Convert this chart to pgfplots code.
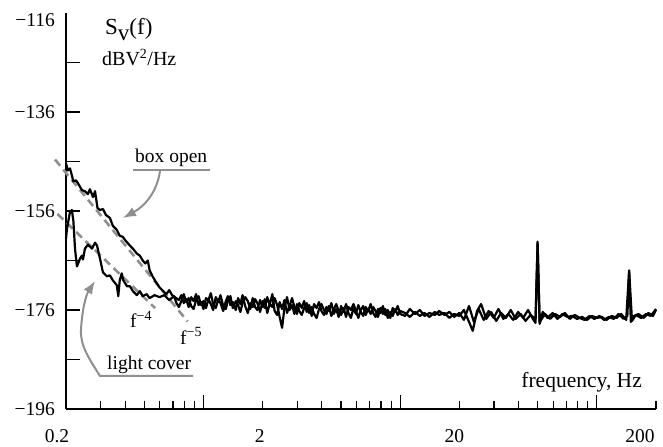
\documentclass[border=0pt]{standalone}
\usepackage{pgfplots}
\pgfplotsset{compat=1.18}
\usepackage{pgfplotstable}
\usepackage{fontspec}
\setmainfont{Liberation Serif}
\usetikzlibrary{arrows.meta}
\definecolor{annot}{gray}{0.56}
\newcommand{\sh}[2]{\makebox[0pt]{\hspace*{#1}#2}}
\newcommand{\fs}[1]{\fontsize{#1bp}{#1bp}\selectfont}

\pgfplotstableread{
f v
0.2000 -146.4
0.2047 -147.8
0.2095 -147.4
0.2143 -148.8
0.2180 -150.0
0.2248 -149.8
0.2301 -150.4
0.2411 -151.8
0.2496 -152.0
0.2585 -152.6
0.2646 -151.6
0.2744 -153.2
0.2810 -152.0
0.2892 -155.4
0.2977 -155.8
0.3082 -155.6
0.3191 -156.8
0.3344 -157.4
0.3461 -159.0
0.3625 -159.8
0.3753 -161.0
0.3884 -161.2
0.4020 -162.0
0.4229 -163.0
0.4378 -163.6
0.4584 -164.6
0.4745 -165.0
0.4912 -166.0
0.5060 -166.6
0.5210 -166.0
0.5324 -168.0
0.5510 -169.2
0.5703 -170.2
0.5970 -171.4
0.6180 -172.0
0.6470 -172.8
0.6696 -172.0
0.6930 -173.0
0.750 -174.0
0.772 -173.0
0.794 -174.6
0.817 -173.8
0.841 -175.4
0.866 -173.4
0.891 -174.2
0.917 -172.8
0.944 -175.0
0.972 -174.4
1.00 -175.8
1.03 -173.6
1.06 -174.0
1.09 -172.6
1.12 -174.8
1.155 -175.6
1.19 -173.8
1.22 -174.6
1.26 -176.2
1.30 -174.2
1.33 -173.2
1.37 -175.0
1.41 -174.4
1.46 -176.0
1.50 -173.6
1.54 -174.8
1.58 -173.0
1.63 -175.2
1.68 -176.6
1.73 -174.6
1.78 -175.4
1.83 -173.8
1.88 -174.6
1.94 -176.4
2.00 -174.2
2.05 -175.6
2.11 -173.4
2.17 -175.0
2.24 -172.8
2.30 -176.2
2.37 -177.0
2.44 -174.4
2.51 -175.8
2.58 -174.0
2.66 -176.6
2.74 -175.2
2.82 -173.6
2.90 -175.4
2.99 -176.8
3.07 -174.6
3.16 -175.6
3.25 -174.2
3.35 -176.4
3.45 -175.0
3.55 -177.2
3.65 -174.8
3.76 -175.6
3.87 -174.4
3.98 -176.2
4.10 -177.0
4.22 -175.4
4.34 -176.2
4.47 -174.6
4.60 -176.8
4.73 -175.8
4.87 -177.4
5.01 -175.2
5.16 -176.4
5.31 -174.8
5.46 -176.6
5.62 -177.6
5.79 -175.6
5.96 -176.8
6.13 -175.0
6.31 -176.4
6.49 -177.2
6.68 -175.4
6.88 -176.2
7.08 -174.8
7.29 -176.6
7.50 -177.4
7.72 -175.8
7.94 -176.6
8.17 -175.2
8.41 -177.0
8.66 -176.0
8.91 -177.6
9.17 -175.6
9.44 -176.4
9.72 -175.2
10.0 -176.8
10.6 -177.2
11.2 -175.8
11.9 -176.8
12.6 -176.0
13.3 -177.2
14.1 -176.6
15.0 -177.0
15.8 -176.2
16.8 -177.0
17.8 -176.4
18.8 -177.4
20.0 -176.6
21.1 -178.0
22.4 -175.2
23.7 -178.4
25.1 -175.8
26.6 -178.0
28.2 -176.2
29.9 -177.6
31.6 -175.8
33.5 -177.8
35.5 -176.8
37.6 -178.0
39.8 -176.4
42.2 -177.6
44.7 -176.0
47.3 -177.8
48.8 -178.6
50.0 -162.6
51.2 -178.8
53.1 -176.4
56.2 -177.6
59.6 -176.6
63.1 -177.8
66.8 -176.8
70.8 -177.4
75.0 -177.2
79.4 -177.8
84.1 -177.4
89.1 -178.0
94.4 -177.2
100 -177.6
106 -177.4
112 -178.0
119 -177.2
126 -177.6
133 -176.8
141 -178.0
146 -168.0
151 -178.2
158 -177.0
168 -177.6
178 -176.8
188 -177.2
200 -175.8
}\boxopen

\pgfplotstableread{
f v
0.2000 -161.6
0.2023 -159.6
0.2095 -156.2
0.2143 -155.8
0.2180 -158.0
0.2222 -163.6
0.2273 -167.2
0.2357 -165.6
0.2411 -165.0
0.2440 -165.8
0.2496 -163.6
0.2585 -162.8
0.2711 -163.6
0.2810 -162.4
0.2876 -163.0
0.2977 -165.6
0.3082 -168.4
0.3230 -169.2
0.3344 -169.0
0.3461 -170.0
0.3625 -171.0
0.3689 -173.2
0.3753 -170.0
0.3842 -168.6
0.3910 -170.0
0.4085 -171.2
0.4229 -171.2
0.4378 -172.2
0.4584 -173.0
0.4745 -172.2
0.4912 -173.2
0.5143 -172.8
0.5324 -173.6
0.5640 -173.0
0.5970 -173.4
0.6324 -173.0
0.6696 -174.0
0.708 -173.2
0.729 -174.6
0.750 -175.4
0.772 -174.2
0.794 -172.8
0.817 -174.4
0.841 -173.6
0.866 -175.2
0.891 -175.8
0.917 -174.0
0.944 -173.2
0.972 -175.0
1.00 -174.2
1.03 -175.6
1.06 -173.8
1.09 -174.8
1.12 -176.0
1.155 -173.4
1.19 -174.4
1.22 -173.0
1.26 -175.2
1.30 -175.8
1.33 -174.0
1.37 -173.2
1.41 -175.6
1.46 -174.2
1.50 -175.0
1.54 -176.4
1.58 -174.6
1.63 -173.4
1.68 -174.2
1.73 -175.8
1.78 -173.6
1.83 -175.4
1.88 -176.0
1.94 -174.0
2.00 -175.4
2.05 -173.8
2.11 -176.6
2.17 -174.8
2.24 -175.4
2.30 -173.6
2.37 -175.0
2.44 -177.4
2.51 -179.6
2.58 -175.6
2.66 -173.4
2.74 -176.0
2.82 -175.0
2.90 -176.8
2.99 -174.8
3.07 -176.2
3.16 -177.0
3.25 -175.6
3.35 -174.6
3.45 -176.6
3.55 -175.4
3.65 -176.8
3.76 -177.6
3.87 -175.8
3.98 -174.8
4.10 -176.0
4.22 -176.8
4.34 -175.2
4.47 -177.2
4.60 -175.8
4.73 -174.8
4.87 -176.2
5.01 -177.0
5.16 -175.6
5.31 -177.4
5.46 -175.4
5.62 -176.0
5.79 -174.8
5.96 -176.2
6.13 -177.6
6.31 -176.0
6.49 -175.2
6.68 -177.0
6.88 -175.8
7.08 -176.8
7.29 -175.4
7.50 -176.2
7.72 -177.4
7.94 -175.6
8.17 -176.8
8.41 -175.8
8.66 -177.6
8.91 -176.4
9.17 -177.2
9.44 -175.8
9.72 -177.0
10.0 -176.2
10.6 -176.6
11.2 -177.4
11.9 -176.4
12.6 -177.2
13.3 -176.6
14.1 -177.4
15.0 -176.4
15.8 -177.0
16.8 -176.6
17.8 -177.6
18.8 -176.8
20.0 -177.2
21.1 -176.0
22.4 -178.4
23.4 -180.2
24.6 -176.2
25.8 -174.8
27.4 -177.8
29.0 -176.4
30.8 -178.2
32.6 -176.6
34.5 -177.6
36.5 -176.0
38.7 -177.8
41.0 -176.8
43.4 -178.2
46.0 -177.0
48.8 -177.8
50.0 -162.2
51.2 -178.4
54.6 -176.8
57.9 -177.8
61.3 -176.8
65.0 -177.4
68.8 -176.6
72.9 -177.8
77.2 -177.0
81.8 -177.6
86.6 -178.0
91.8 -177.2
97.2 -177.8
103 -177.2
109 -178.0
115 -177.4
122 -177.8
129 -176.8
137 -177.8
143 -177.2
146 -168.4
149 -178.4
155 -177.2
163 -176.8
173 -177.6
183 -176.6
193 -177.2
200 -176.0
}\lightcover

\begin{document}
\begin{tikzpicture}
\useasboundingbox (0,0) rectangle (663bp,447bp);
\begin{axis}[
  at={(66bp,38bp)}, anchor=south west,
  scale only axis, width=590bp, height=396bp,
  xmode=log, xmin=0.2, xmax=200, ymin=-196, ymax=-116,
  axis lines=left, axis line style={-, line width=1.5bp, black},
  tick align=inside,
  major tick length=14bp, minor tick length=8bp,
  every tick/.style={black, line width=1.2bp},
  xtick={1,10,100}, xticklabels={},
  minor xtick={0.3,0.4,0.5,0.6,0.7,0.8,0.9,3,4,5,6,7,8,9,30,40,50,60,70,80,90},
  extra x ticks={0.2,2,20,200},
  extra x tick labels={\sh{-18bp}{0.2},\sh{-6bp}{2},\sh{-10bp}{20},\sh{-32bp}{200}},
  extra x tick style={major tick length=8bp},
  xticklabel style={inner sep=0pt, anchor=north, yshift=-20bp},
  ytick={-196,-186,-176,-166,-156,-146,-136,-126},
  yticklabels={−196,,−176,,−156,,−136,},
  extra y ticks={-116}, extra y tick labels={−116},
  extra y tick style={major tick length=0pt, yticklabel style={yshift=-7bp}},
  yticklabel style={inner sep=0pt, anchor=east, xshift=-11bp},
  tick label style={font=\fs{19.5}},
  clip=false,
]
\addplot[annot, line width=2.6bp, dash pattern=on 8bp off 5bp] coordinates {(0.176,-145.6) (0.83,-178.3)};
\addplot[annot, line width=2.6bp, dash pattern=on 8bp off 5bp] coordinates {(0.181,-156.6) (0.567,-175.6)};
\addplot[black, line width=2.2bp, line join=round] table[x=f, y=v] {\lightcover};
\addplot[black, line width=2.2bp, line join=round] table[x=f, y=v] {\boxopen};
\end{axis}
\begin{scope}[shift={(0,447bp)}, x=1bp, y=-1bp]
\node[anchor=base west, inner sep=0pt, font=\fs{23}] at (105,35) {S\raisebox{-6bp}{v}(f)};
\node[anchor=base west, inner sep=0pt, font=\fs{20}] at (102,66) {dBV\textsuperscript{2}/Hz};
\node[anchor=base east, inner sep=0pt, font=\fs{21.5}] at (642,388) {frequency, Hz};
\node[anchor=base west, inner sep=0pt, font=\fs{19.5}] at (135,163) {box open};
\node[anchor=base west, inner sep=0pt, font=\fs{19.5}] at (107,370) {light cover};
\node[anchor=base west, inner sep=0pt, font=\fs{19.5}] at (130,328) {f\raisebox{7bp}{\fs{14}−4}};
\node[anchor=base west, inner sep=0pt, font=\fs{19.5}] at (180,345) {f\raisebox{8bp}{\fs{14}−5}};
\draw[annot, line width=2bp] (133,170) -- (210,170);
\draw[annot, line width=2bp, -{Latex[length=13bp, width=10bp]}] (160,171) .. controls (157,192) and (145,206) .. (123,218);
\draw[annot, line width=2bp, line join=round, -{Latex[length=13bp, width=10bp]}] (193,376) -- (100,376) .. controls (90,360) and (80,346) .. (81,330) .. controls (82,310) and (86,295) .. (95,281);
\end{scope}
\end{tikzpicture}
\end{document}
